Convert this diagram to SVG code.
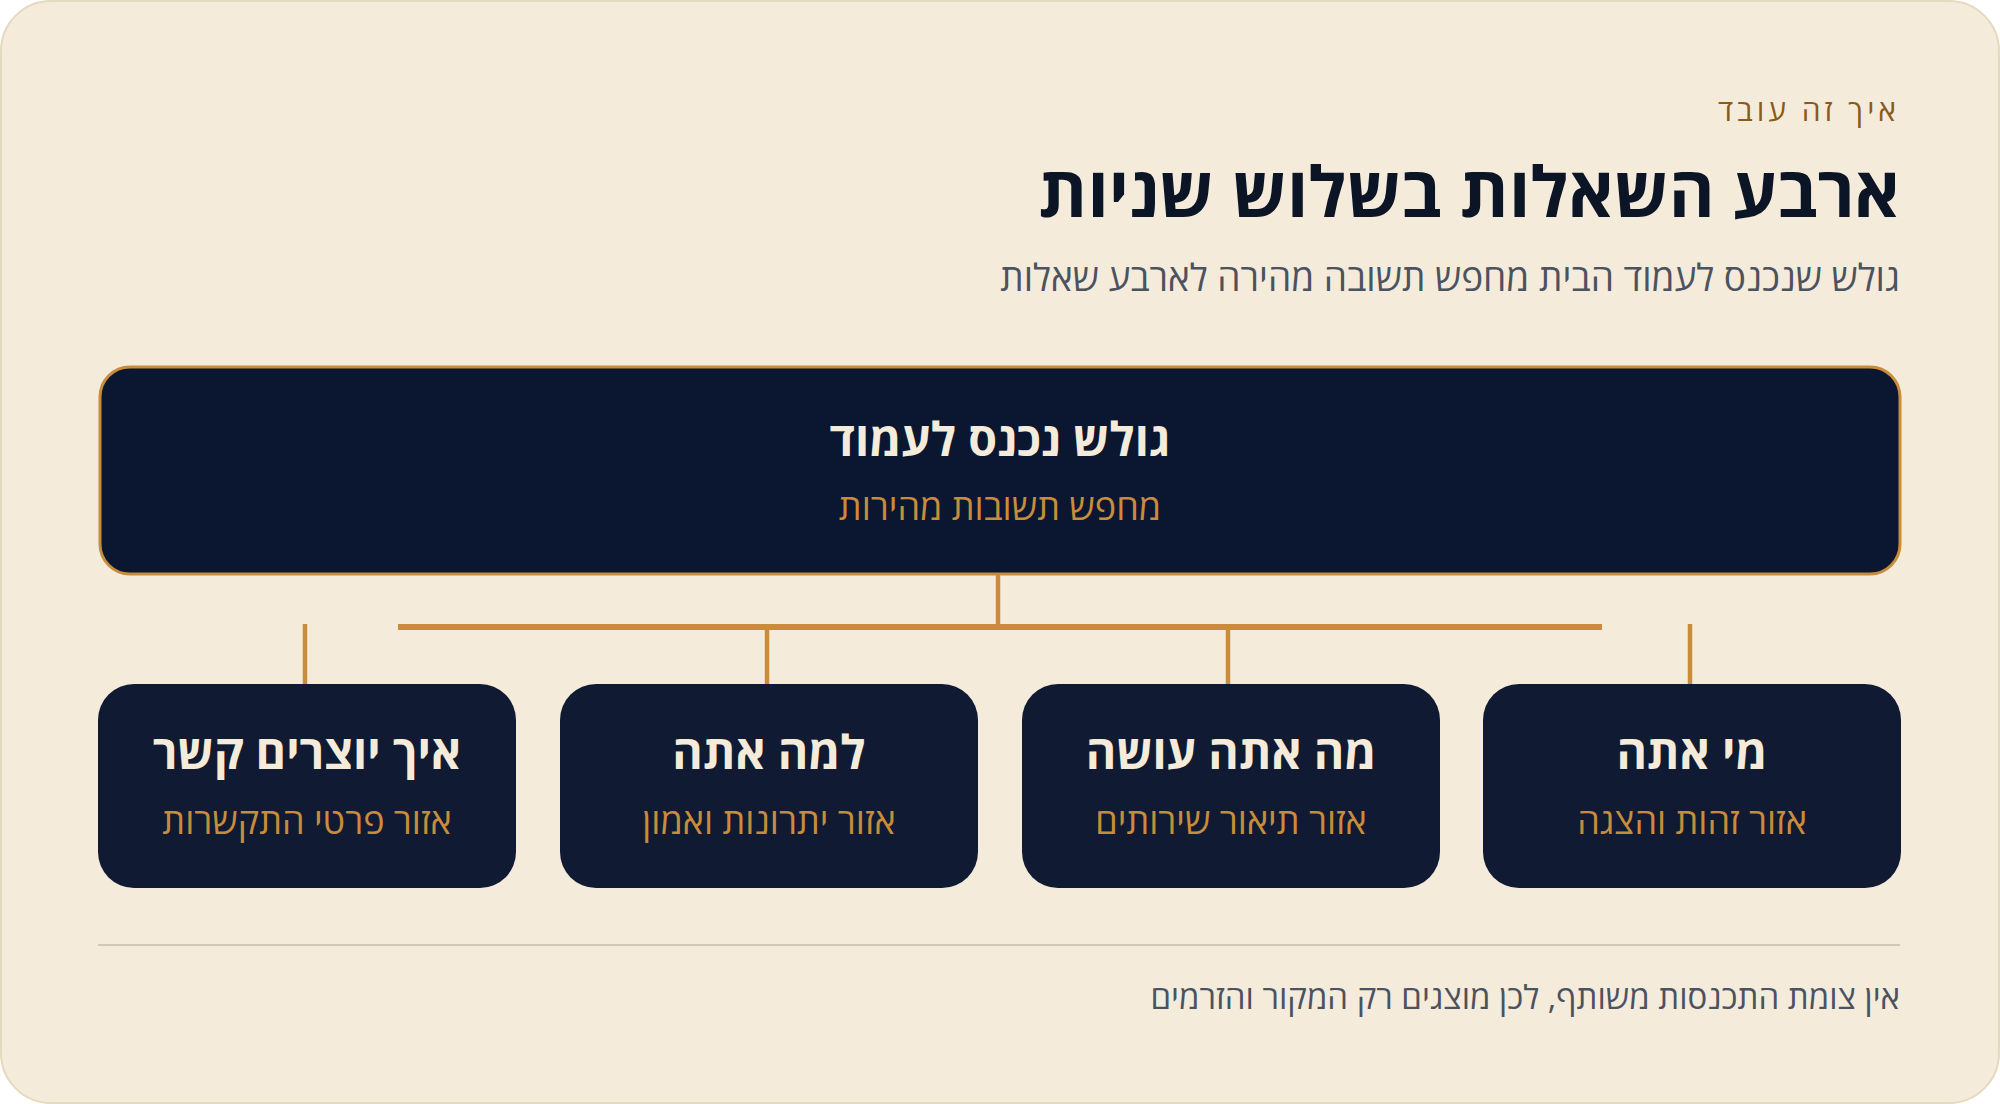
<svg xmlns="http://www.w3.org/2000/svg" width="2000" height="1104" viewBox="0 0 2000 1104">
<style>
text{font-family:"Open Sans","Noto Sans","DejaVu Sans",sans-serif;direction:rtl}
.eyebrow{font-size:30px;fill:#8A5A1C;letter-spacing:4px}
.title{font-size:70px;font-weight:700;fill:#0B1526}
.sub{font-size:37px;fill:#4B5260}
.ntitle{font-size:46.5px;font-weight:700;fill:#F5EBDB;text-anchor:middle}
.nsub{font-size:36px;fill:#C98C3A;text-anchor:middle}
.foot{font-size:33px;fill:#4B5260}
.box{fill:#101B33}
.conn{stroke:#C98C3A;stroke-width:4.5;fill:none}
</style>
<rect x="0" y="0" width="2000" height="1104" fill="#FFFFFF"/>
<rect x="1" y="1" width="1998" height="1102" rx="50" fill="#F5EBDB" stroke="#E5D9BE" stroke-width="2"/>
<g id="header">
<text class="eyebrow" x="1900" y="121" text-anchor="start">איך זה עובד</text>
<text class="title" x="1900" y="217" text-anchor="start">ארבע השאלות בשלוש שניות</text>
<text class="sub" x="1900" y="291" text-anchor="start">גולש שנכנס לעמוד הבית מחפש תשובה מהירה לארבע שאלות</text>
</g>
<g id="connectors">
<line class="conn" x1="998" y1="575" x2="998" y2="627"/>
<line x1="398" y1="627" x2="1602" y2="627" stroke="#C98C3A" stroke-width="6"/>
<line class="conn" x1="305" y1="624" x2="305" y2="685"/>
<line class="conn" x1="767" y1="630" x2="767" y2="685"/>
<line class="conn" x1="1228" y1="630" x2="1228" y2="685"/>
<line class="conn" x1="1690" y1="624" x2="1690" y2="685"/>
</g>
<g id="source">
<rect x="100" y="367" width="1800" height="207" rx="30" fill="#0B1730" stroke="#C98C3A" stroke-width="3"/>
<text class="ntitle" x="1000" y="456">גולש נכנס לעמוד</text>
<text class="nsub" x="1000" y="520">מחפש תשובות מהירות</text>
</g>
<g id="node-contact">
<rect class="box" x="98" y="684" width="418" height="204" rx="36"/>
<text class="ntitle" x="307" y="769">איך יוצרים קשר</text>
<text class="nsub" x="307" y="834">אזור פרטי התקשרות</text>
</g>
<g id="node-why">
<rect class="box" x="560" y="684" width="418" height="204" rx="36"/>
<text class="ntitle" x="769" y="769">למה אתה</text>
<text class="nsub" x="769" y="834">אזור יתרונות ואמון</text>
</g>
<g id="node-what">
<rect class="box" x="1022" y="684" width="418" height="204" rx="36"/>
<text class="ntitle" x="1231" y="769">מה אתה עושה</text>
<text class="nsub" x="1231" y="834">אזור תיאור שירותים</text>
</g>
<g id="node-who">
<rect class="box" x="1483" y="684" width="418" height="204" rx="36"/>
<text class="ntitle" x="1692" y="769">מי אתה</text>
<text class="nsub" x="1692" y="834">אזור זהות והצגה</text>
</g>
<g id="footer">
<line x1="98" y1="945" x2="1900" y2="945" stroke="#D2C8B8" stroke-width="2"/>
<text class="foot" x="1900" y="1009" text-anchor="start">אין צומת התכנסות משותף, לכן מוצגים רק המקור והזרמים</text>
</g>
</svg>
